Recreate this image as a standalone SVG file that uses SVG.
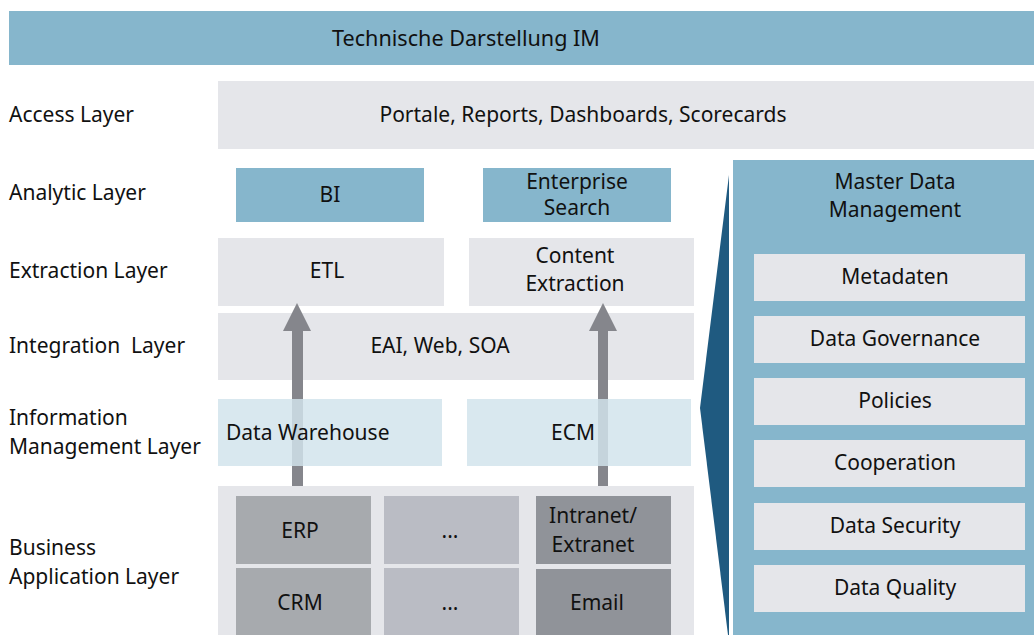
<svg xmlns="http://www.w3.org/2000/svg" width="1034" height="635" viewBox="0 0 1034 635">
<style>
text{font-family:"Noto Sans","Open Sans","DejaVu Sans",sans-serif;font-size:21px;fill:#111;}
.c{text-anchor:middle;}
.blue{fill:#86b6cc;}
.grey{fill:#e5e6ea;}
.lb{fill:#d2e4ec;fill-opacity:0.84;}
.erp{fill:#a7aaae;}
.dots{fill:#babcc4;}
.dark{fill:#909399;}
.arr{fill:#85868c;}
</style>
<rect width="1034" height="635" fill="#fff"/>
<g id="title"><rect class="blue" x="9" y="11" width="1025" height="54"/><text class="c" x="466" y="46" style="font-size:21.6px">Technische Darstellung IM</text></g>
<g id="labels">
<text x="9" y="122">Access Layer</text>
<text x="9" y="200">Analytic Layer</text>
<text x="9" y="278">Extraction Layer</text>
<text x="9" y="353" xml:space="preserve">Integration  Layer</text>
<text x="9" y="425">Information</text>
<text x="9" y="454">Management Layer</text>
<text x="9" y="555">Business</text>
<text x="9" y="584">Application Layer</text>
</g>
<g id="access"><rect class="grey" x="218" y="81" width="816" height="68"/><text class="c" x="583" y="122">Portale, Reports, Dashboards, Scorecards</text></g>
<g id="bi"><rect class="blue" x="236" y="168" width="188" height="54"/><text class="c" x="330" y="202">BI</text></g>
<g id="search"><rect class="blue" x="483" y="168" width="188" height="54"/><text class="c" x="577" y="189">Enterprise</text><text class="c" x="577" y="215">Search</text></g>
<g id="etl"><rect class="grey" x="218" y="238" width="226" height="68"/><text class="c" x="327" y="278">ETL</text></g>
<g id="content"><rect class="grey" x="469" y="238" width="225" height="68"/><text class="c" x="575" y="263">Content</text><text class="c" x="575" y="291">Extraction</text></g>
<g id="integration"><rect class="grey" x="218" y="313" width="476" height="67"/><text class="c" x="440" y="353">EAI, Web, SOA</text></g>
<g id="business">
<rect class="grey" x="218" y="486" width="476" height="149"/>
<g id="erp"><rect class="erp" x="236" y="496" width="135" height="68"/><text class="c" x="300" y="538">ERP</text></g>
<g id="dots1"><rect class="dots" x="384" y="496" width="135" height="68"/><text class="c" x="450" y="538">...</text></g>
<g id="intranet"><rect class="dark" x="536" y="496" width="135" height="68"/><text class="c" x="593" y="523">Intranet/</text><text class="c" x="593" y="552">Extranet</text></g>
<g id="crm"><rect class="erp" x="236" y="568" width="135" height="67"/><text class="c" x="300" y="610">CRM</text></g>
<g id="dots2"><rect class="dots" x="384" y="568" width="135" height="67"/><text class="c" x="450" y="610">...</text></g>
<g id="email"><rect class="dark" x="536" y="569" width="135" height="66"/><text class="c" x="597" y="610">Email</text></g>
</g>
<g id="connectors">
<rect class="arr" x="292" y="328" width="11" height="158"/>
<polygon class="arr" points="297,303 311,331 283,331"/>
<rect class="arr" x="598" y="328" width="10" height="158"/>
<polygon class="arr" points="603,303 617,331 589,331"/>
</g>
<g id="dw"><rect class="lb" x="218" y="399" width="224" height="67"/><text x="226" y="440">Data Warehouse</text></g>
<g id="ecm"><rect class="lb" x="467" y="399" width="224" height="67"/><text class="c" x="573" y="440">ECM</text></g>
<g id="mdm">
<polygon fill="#1f5a80" points="729,175 700,408 728,635 729,635"/>
<rect class="blue" x="733" y="160" width="301" height="475"/>
<text class="c" x="895" y="189">Master Data</text>
<text class="c" x="895" y="217">Management</text>
<g id="meta"><rect class="grey" x="754" y="254" width="271" height="47"/><text class="c" x="895" y="284">Metadaten</text></g>
<g id="gov"><rect class="grey" x="754" y="316" width="271" height="47"/><text class="c" x="895" y="346">Data Governance</text></g>
<g id="pol"><rect class="grey" x="754" y="378" width="271" height="47"/><text class="c" x="895" y="408">Policies</text></g>
<g id="coop"><rect class="grey" x="754" y="440" width="271" height="47"/><text class="c" x="895" y="470">Cooperation</text></g>
<g id="sec"><rect class="grey" x="754" y="503" width="271" height="47"/><text class="c" x="895" y="533">Data Security</text></g>
<g id="qual"><rect class="grey" x="754" y="565" width="271" height="47"/><text class="c" x="895" y="595">Data Quality</text></g>
</g>
</svg>
